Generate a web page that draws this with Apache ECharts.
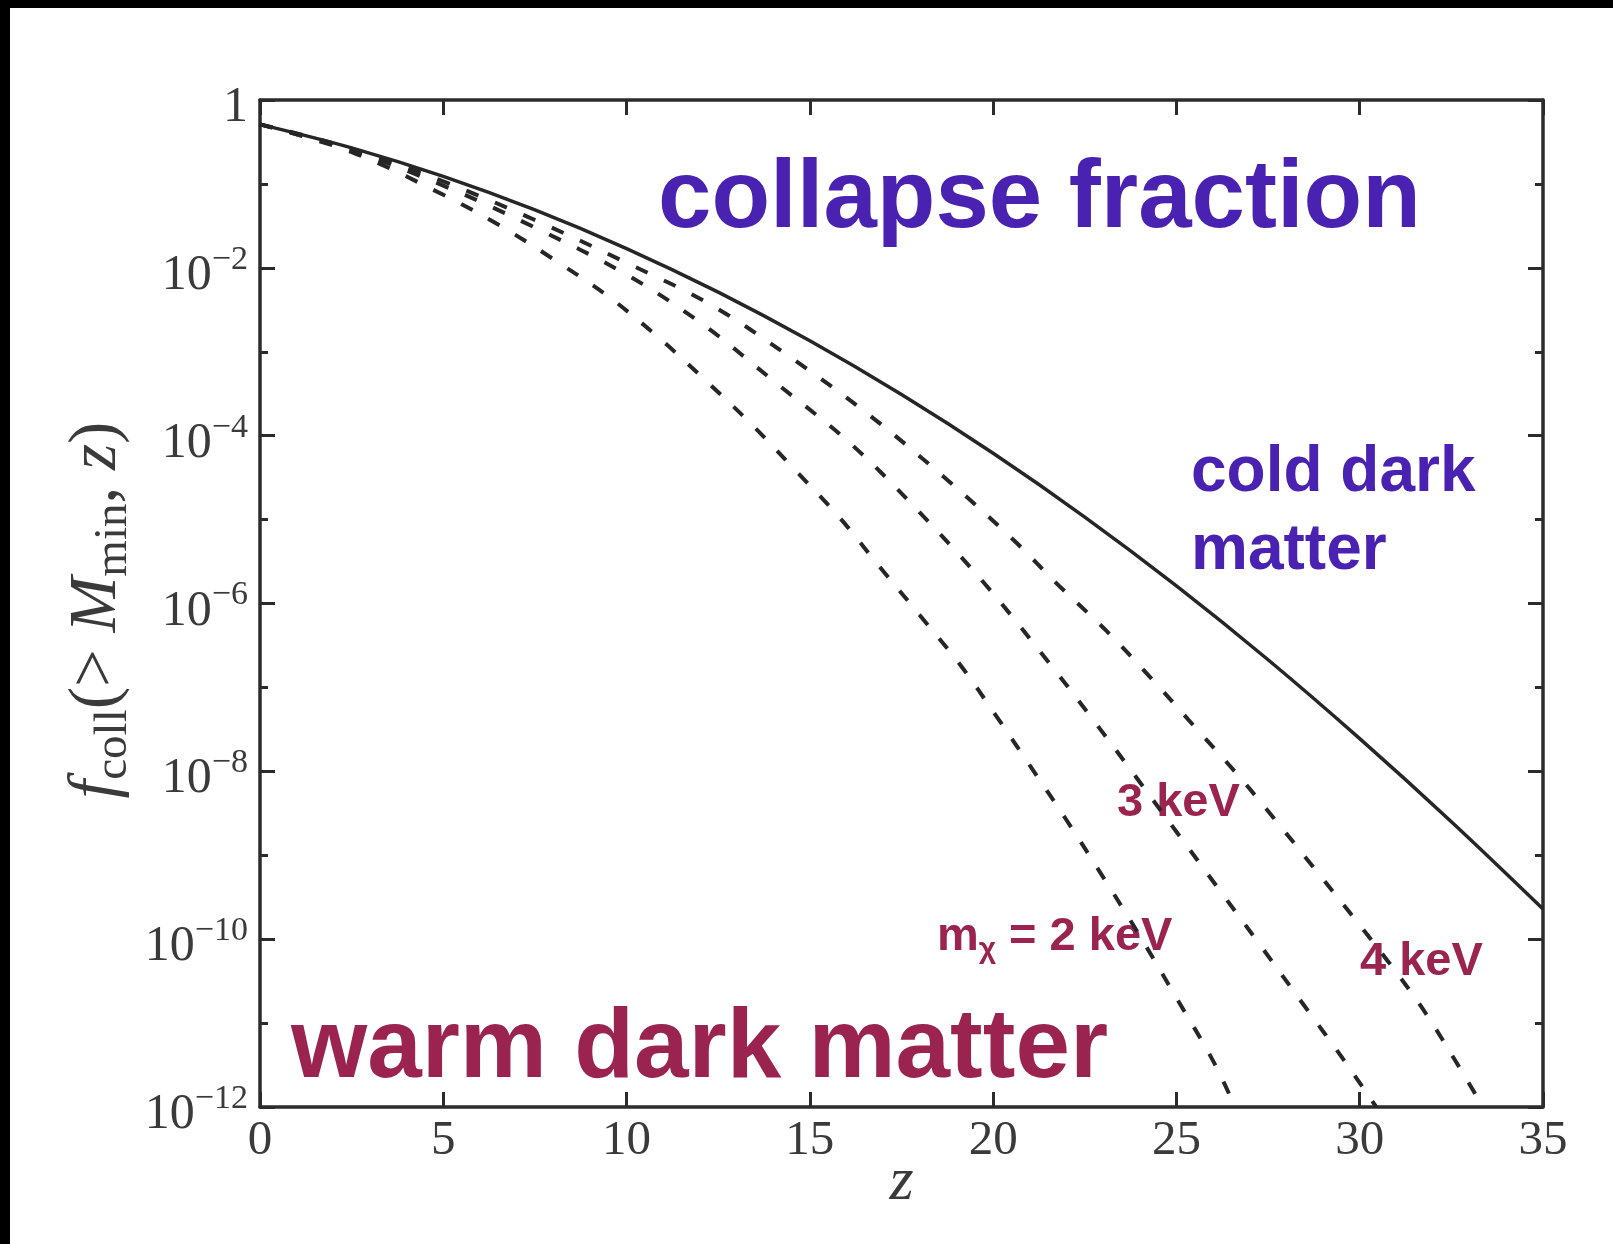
<!DOCTYPE html>
<html>
<head>
<meta charset="utf-8">
<script src="https://cdn.jsdelivr.net/npm/echarts@6/dist/echarts.min.js"></script>
<style>
  html, body { margin: 0; padding: 0; background: #fff; }
  #chart { width: 1613px; height: 1244px; }
</style>
</head>
<body>
<div id="chart"></div>
<script>
// ---- Data: redshift z and log10 of f_coll ----
const xTicks = [0, 5, 10, 15, 20, 25, 30, 35];
const yTickExponents = [0, -2, -4, -6, -8, -10, -12];

const zCDM = [0, 2.5, 5, 7.5, 10, 12.5, 15, 17.5, 20, 22.5, 25, 27.5, 30, 32.5, 35];
const logF_CDM = [-0.29, -0.57, -0.91, -1.31, -1.77, -2.29, -2.87, -3.51, -4.21, -4.97, -5.79, -6.67, -7.61, -8.60, -9.64];

const z2keV = [0, 2.5, 5, 6.6, 8.05, 9.5, 10.9, 12.15, 13.4, 14.6, 15.8, 16.9, 18, 19.1, 20.1, 21, 22, 23, 24, 25, 26, 26.6];
const logF_2keV = [-0.29, -0.62, -1.13, -1.51, -1.91, -2.34, -2.84, -3.34, -3.86, -4.41, -4.97, -5.56, -6.14, -6.73, -7.35, -7.93, -8.58, -9.26, -9.96, -10.70, -11.45, -12.0];

const z3keV = [0, 2.5, 5, 7.5, 10, 12.1, 14.1, 16.1, 17.9, 19.8, 21.55, 22.7, 23.85, 25, 26.15, 27.3, 28.5, 29.55, 30.45];
const logF_3keV = [-0.29, -0.60, -1.02, -1.52, -2.08, -2.68, -3.38, -4.09, -4.87, -5.78, -6.72, -7.37, -8.04, -8.72, -9.40, -10.08, -10.80, -11.43, -12.0];

const z4keV = [0, 2.5, 5, 7.5, 10, 12.3, 14.45, 16.55, 18.65, 20.55, 21.8, 23.1, 24.35, 25.5, 26.65, 27.7, 28.75, 29.85, 30.8, 31.75, 32.75, 33.36];
const logF_4keV = [-0.29, -0.58, -0.97, -1.43, -1.94, -2.44, -3.06, -3.73, -4.49, -5.24, -5.79, -6.33, -6.91, -7.47, -8.03, -8.58, -9.15, -9.75, -10.28, -10.85, -11.55, -12.0];

function pairs(zs, ys) { return zs.map((z, i) => [z, ys[i]]); }

const AX = '#2b2b2b';
const TXT = '#3a3a3a';
const SERIF = '"Liberation Serif", "DejaVu Serif", serif';
const SANS = '"Liberation Sans", Arial, sans-serif';
const PURPLE = '#4a22b1';
const MAROON = '#9a2350';

const chart = echarts.init(document.getElementById('chart'), null, { renderer: 'canvas' });

const axisLineCfg = { show: true, onZero: false, lineStyle: { color: AX, width: 3.5 } };
const tickCfg = { show: true, inside: true, length: 15, lineStyle: { color: AX, width: 3 } };
const minorCfg = { show: true, splitNumber: 2, length: 8, lineStyle: { color: AX, width: 3 } };

const yLabelRich = {
  b: { fontFamily: SERIF, fontSize: 50, color: TXT, lineHeight: 66 },
  s: { fontFamily: SERIF, fontSize: 34, color: TXT, lineHeight: 34, verticalAlign: 'top' }
};

const option = {
  backgroundColor: '#ffffff',
  animation: false,
  grid: { left: 260, right: 70, top: 100, bottom: 137, containLabel: false },
  xAxis: [
    {
      type: 'value', min: xTicks[0], max: xTicks[xTicks.length - 1], interval: 5, position: 'bottom',
      axisLine: axisLineCfg, axisTick: tickCfg, splitLine: { show: false },
      axisLabel: { margin: 10, color: TXT, fontFamily: SERIF, fontSize: 49 },
      name: 'z', nameLocation: 'middle', nameGap: 45, nameMoveOverlap: false,
      nameTextStyle: { fontFamily: SERIF, fontStyle: 'italic', fontSize: 62, color: TXT }
    },
    {
      type: 'value', min: xTicks[0], max: xTicks[xTicks.length - 1], interval: 5, position: 'top',
      axisLine: axisLineCfg, axisTick: tickCfg, splitLine: { show: false },
      axisLabel: { show: false }
    }
  ],
  yAxis: [
    {
      type: 'value', min: yTickExponents[yTickExponents.length - 1], max: yTickExponents[0], interval: 2, position: 'left',
      axisLine: axisLineCfg, axisTick: tickCfg, minorTick: minorCfg, splitLine: { show: false }, minorSplitLine: { show: false },
      axisLabel: {
        margin: 12,
        padding: [16, 0, 0, 0],
        formatter: function (v) {
          if (v === 0) return '{b|1}';
          return '{b|10}{s|\u2212' + (-v) + '}';
        },
        rich: yLabelRich
      }
    },
    {
      type: 'value', min: yTickExponents[yTickExponents.length - 1], max: yTickExponents[0], interval: 2, position: 'right',
      axisLine: axisLineCfg, axisTick: tickCfg, minorTick: minorCfg, splitLine: { show: false }, minorSplitLine: { show: false },
      axisLabel: { show: false }
    }
  ],
  series: [
    {
      name: 'CDM', type: 'line', data: pairs(zCDM, logF_CDM), showSymbol: false, smooth: 0.35,
      lineStyle: { color: '#262626', width: 3.5, type: 'solid' }, z: 5
    },
    {
      name: '2 keV', type: 'line', data: pairs(z2keV, logF_2keV), showSymbol: false, smooth: 0.35,
      lineStyle: { color: '#262626', width: 4, type: [13, 18] }
    },
    {
      name: '3 keV', type: 'line', data: pairs(z3keV, logF_3keV), showSymbol: false, smooth: 0.35,
      lineStyle: { color: '#262626', width: 4, type: [13, 18] }
    },
    {
      name: '4 keV', type: 'line', data: pairs(z4keV, logF_4keV), showSymbol: false, smooth: 0.35,
      lineStyle: { color: '#262626', width: 4, type: [13, 18] }
    }
  ],
  graphic: [
    { type: 'rect', shape: { x: 0, y: 0, width: 1613, height: 8 }, style: { fill: '#000' }, silent: true },
    { type: 'rect', shape: { x: 0, y: 0, width: 10, height: 1244 }, style: { fill: '#000' }, silent: true },
    {
      type: 'text', x: 97, y: 610, rotation: Math.PI / 2, silent: true,
      style: {
        text: '{i|f}{sub|coll}{r|(> }{i|M}{sub|min}{r|, }{i|z}{r|)}',
        align: 'center', verticalAlign: 'middle',
        rich: {
          i: { fontFamily: SERIF, fontStyle: 'italic', fontSize: 67, fill: TXT, lineHeight: 80 },
          r: { fontFamily: SERIF, fontSize: 67, fill: TXT, lineHeight: 80 },
          sub: { fontFamily: SERIF, fontSize: 47, fill: TXT, lineHeight: 44, verticalAlign: 'bottom' }
        }
      }
    },
    {
      type: 'text', x: 658, y: 201, silent: true,
      style: { text: 'collapse fraction', fill: PURPLE, font: 'bold 96px ' + SANS, align: 'left', verticalAlign: 'middle' }
    },
    {
      type: 'text', x: 1191, y: 434, silent: true,
      style: { text: 'cold dark\nmatter', fill: PURPLE, font: 'bold 64px ' + SANS, lineHeight: 78, align: 'left', verticalAlign: 'top' }
    },
    {
      type: 'text', x: 291, y: 1050, silent: true,
      style: { text: 'warm dark matter', fill: MAROON, font: 'bold 98px ' + SANS, align: 'left', verticalAlign: 'middle' }
    },
    {
      type: 'text', x: 1117, y: 803, silent: true,
      style: { text: '3 keV', fill: MAROON, font: 'bold 47px ' + SANS, align: 'left', verticalAlign: 'middle' }
    },
    {
      type: 'text', x: 1360, y: 962, silent: true,
      style: { text: '4 keV', fill: MAROON, font: 'bold 47px ' + SANS, align: 'left', verticalAlign: 'middle' }
    },
    {
      type: 'text', x: 937, y: 937, silent: true,
      style: {
        text: '{n|m}{s|\u03C7}{n| = 2 keV}', align: 'left', verticalAlign: 'middle',
        rich: {
          n: { fontFamily: SANS, fontWeight: 'bold', fontSize: 47, fill: MAROON, lineHeight: 56 },
          s: { fontFamily: SANS, fontWeight: 'bold', fontSize: 30, fill: MAROON, lineHeight: 30, verticalAlign: 'bottom' }
        }
      }
    }
  ]
};

chart.setOption(option);
</script>
</body>
</html>
